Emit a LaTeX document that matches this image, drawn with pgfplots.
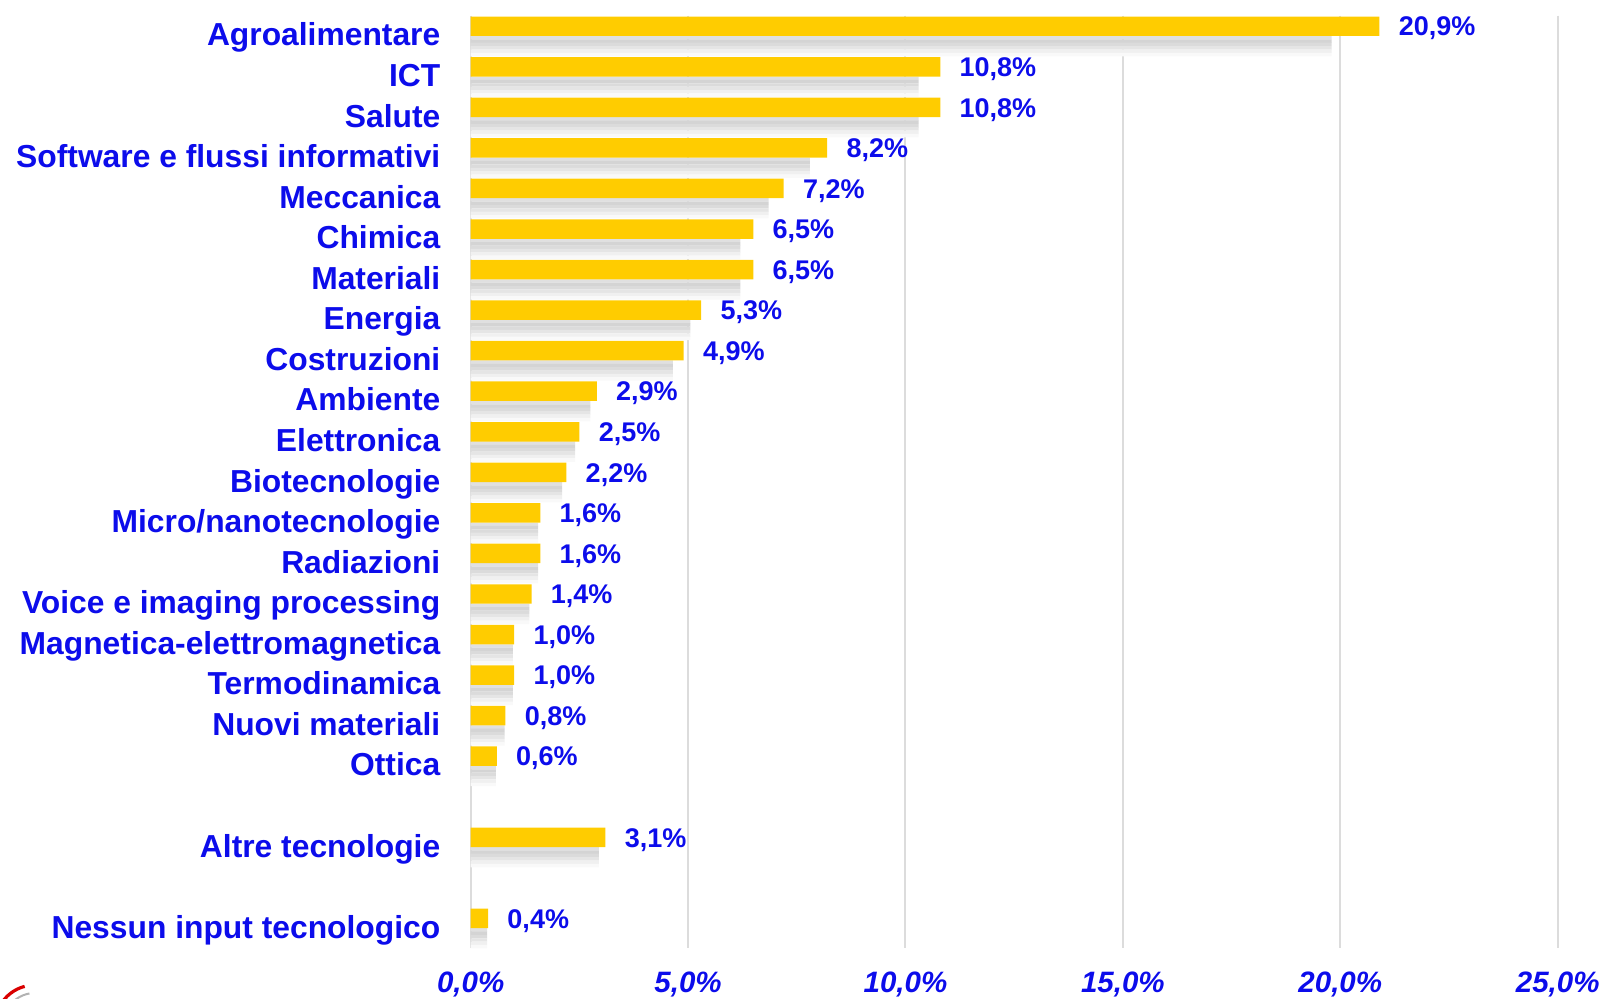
\documentclass[border=0pt]{standalone}
\usepackage{fontspec}
\setmainfont{Liberation Sans}
\usepackage{pgfplots}
\pgfplotsset{compat=1.18}
\usepackage{pgfplotstable}
\definecolor{barc}{HTML}{FFCC00}
\definecolor{txt}{RGB}{12,12,235}
\definecolor{gridc}{HTML}{DCDCDC}

\pgfplotstableread{
i v s
0 20.9 19.8
1 10.8 10.3
2 10.8 10.3
3 8.2 7.8
4 7.2 6.85
5 6.5 6.2
6 6.5 6.2
7 5.3 5.05
8 4.9 4.65
9 2.9 2.75
10 2.5 2.4
11 2.2 2.1
12 1.6 1.55
13 1.6 1.55
14 1.4 1.35
15 1.0 0.97
16 1.0 0.97
17 0.8 0.78
18 0.6 0.58
20 3.1 2.95
22 0.4 0.38
}\data

\begin{document}
\begin{tikzpicture}
\begin{axis}[
  scale only axis, width=543.5pt, height=466.35pt,
  xmin=0, xmax=25, ymin=-0.5, ymax=22.5, y dir=reverse,
  axis lines*=left, axis line style={draw=none},
  xmajorgrids, grid style={gridc, line width=1pt},
  xtick={0,5,10,15,20,25}, major tick length=0pt,
  ytick={0,1,2,3,4,5,6,7,8,9,10,11,12,13,14,15,16,17,18,20,22},
  yticklabels={Agroalimentare,ICT,Salute,Software e flussi informativi,Meccanica,Chimica,Materiali,Energia,Costruzioni,Ambiente,Elettronica,Biotecnologie,Micro/nanotecnologie,Radiazioni,Voice e imaging processing,Magnetica-elettromagnetica,Termodinamica,Nuovi materiali,Ottica,Altre tecnologie,Nessun input tecnologico},
  /pgf/number format/assume math mode=true,
  xticklabel={\pgfmathprintnumber[fixed,fixed zerofill,precision=1,use comma]{\tick}\%},
  x tick label style={font=\fontsize{14.75}{17}\selectfont\bfseries\itshape, text=txt, anchor=base, inner sep=0pt, yshift=-22pt},
  y tick label style={font=\fontsize{15.9}{18}\selectfont\bfseries, text=txt, anchor=base east, inner sep=0pt, xshift=-15pt, yshift=-5pt},
  clip=false,
]
% shadow bands
\addplot[xbar, bar width=0.085, bar shift=0.042, draw=none, fill=black!12] table[x=s,y=i]{\data};
\addplot[xbar, bar width=0.085, bar shift=0.125, draw=none, fill=black!17] table[x=s,y=i]{\data};
\addplot[xbar, bar width=0.085, bar shift=0.208, draw=none, fill=black!14] table[x=s,y=i]{\data};
\addplot[xbar, bar width=0.085, bar shift=0.292, draw=none, fill=black!10] table[x=s,y=i]{\data};
\addplot[xbar, bar width=0.085, bar shift=0.375, draw=none, fill=black!6] table[x=s,y=i]{\data};
\addplot[xbar, bar width=0.085, bar shift=0.458, draw=none, fill=black!2.5] table[x=s,y=i]{\data};
% main bars
\addplot[xbar, bar width=0.48, bar shift=-0.24, draw=none, fill=barc] table[x=v,y=i]{\data};
% value labels
\addplot[draw=none, mark=none, point meta=x,
  nodes near coords={\pgfmathprintnumber[fixed,fixed zerofill,precision=1,use comma]{\pgfplotspointmeta}\%},
  every node near coord/.style={font=\fontsize{13.5}{16}\selectfont\bfseries, text=txt, anchor=base west, inner sep=0pt, xshift=9.5pt}]
  table[x=v,y=i]{\data};
\end{axis}
\draw[red!85!black, line width=1.6pt] (-217.85pt,-38.3pt) ++(105:20pt) arc[start angle=105, end angle=150, radius=20pt];
\draw[gray!60, line width=1pt] (-217.85pt,-38.3pt) ++(100:16pt) arc[start angle=100, end angle=150, radius=16pt];
\pgfresetboundingbox
\useasboundingbox (-235.35pt,-24.8pt) rectangle (566.15pt,474.2pt);
\end{tikzpicture}
\end{document}
